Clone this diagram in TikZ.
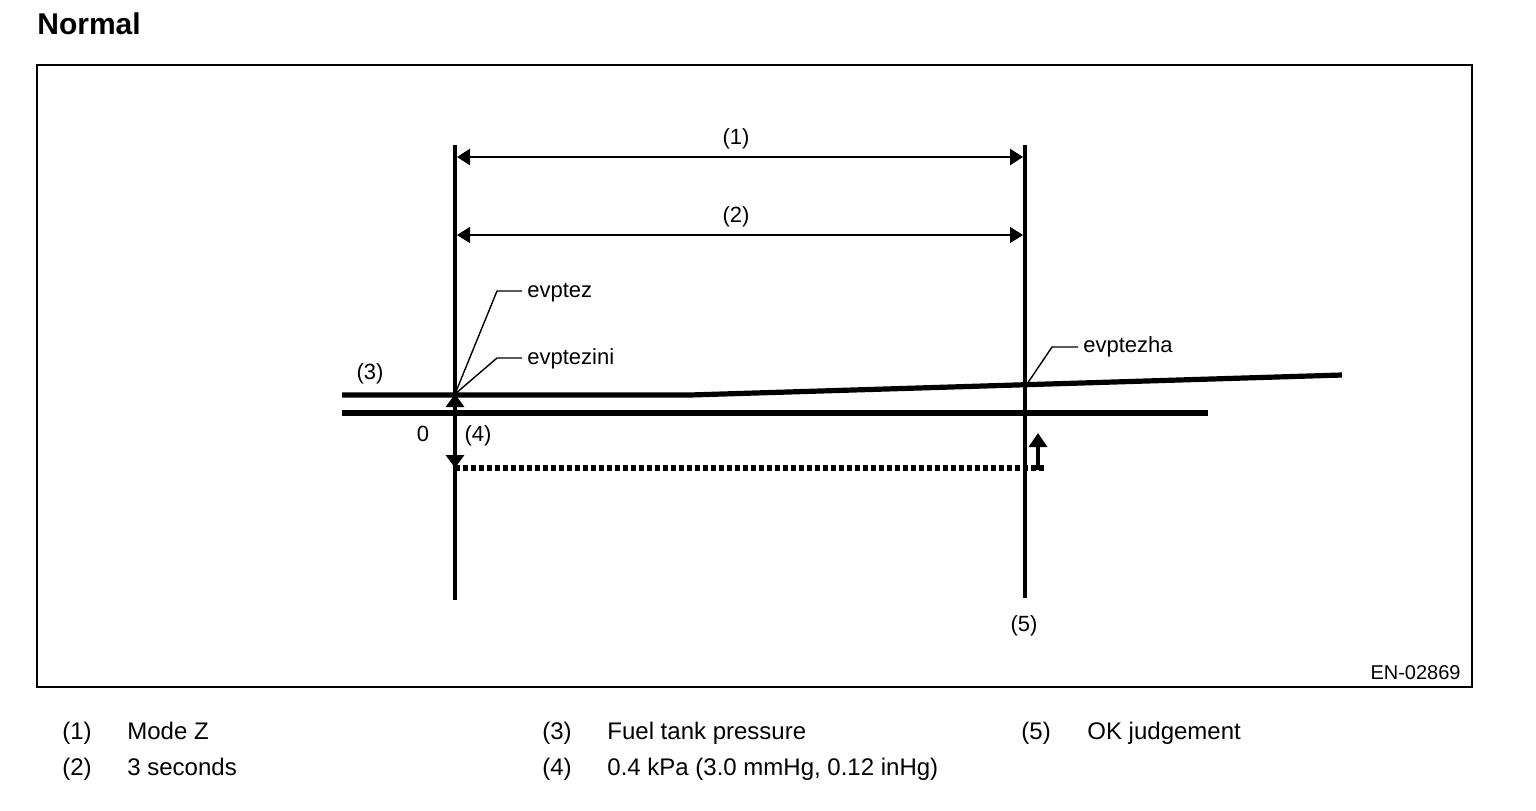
\documentclass[tikz,border=0pt]{standalone}
\usepackage{fontspec}
\setmainfont{Liberation Sans}
\usetikzlibrary{arrows.meta,calc,positioning}
\tikzstyle{timeline} = [line width=2.3pt]
\tikzstyle{pressure} = [line width=2.6pt]
\tikzstyle{span} = [{Triangle[length=6.5pt,width=8pt]}-{Triangle[length=6.5pt,width=8pt]}]
\tikzstyle{leader} = [line width=0.7pt]
\tikzstyle{tag} = [font=\fontsize{11}{13}\selectfont, inner sep=0pt]
\tikzstyle{legend} = [font=\fontsize{12}{14}\selectfont, inner sep=0pt, anchor=base west]

\begin{document}
\begin{tikzpicture}[x=0.5pt,y=-0.5pt]
        \useasboundingbox (0,0) rectangle (1536,810);
        \node (title) [anchor=west, inner sep=0pt, font=\bfseries\fontsize{15}{18}\selectfont] at (37,24) {Normal};
        \draw [line width=1.1pt] (37,65) rectangle (1472,687);
        \coordinate (start-top) at (455,145);
        \coordinate (start-bottom) at (455,600);
        \coordinate (ok-top) at (1025,145);
        \coordinate (ok-bottom) at (1025,598);
        \coordinate (press-left) at (342,395);
        \coordinate (press-bend) at (690,395);
        \coordinate (press-right) at (1342,375);
        \coordinate (zero-left) at (342,413);
        \coordinate (zero-right) at (1208,413);
        \coordinate (evptezini-pt) at (455,394);
        \coordinate (evptezha-pt) at (1027,384);
        \coordinate (dotted-start) at (455,468);
        \coordinate (dotted-end) at (1045,468);
        \coordinate (ok-arrow-base) at (1038,470);
        \coordinate (ok-arrow-tip) at (1038,433);
        \node (mode-1) [tag] at (736,139) {(1)};
        \node (mode-2) [tag] at (736,217) {(2)};
        \node (press-tag) [tag] at (370,374) {(3)};
        \node (zero-tag) [tag] at (423,434) {0};
        \node (delta-tag) [tag] at (478,436) {(4)};
        \node (ok-tag) [tag] at (1024,626) {(5)};
        \node (evptez) [tag, anchor=base west] at (527,297) {evptez};
        \node (evptezini) [tag, anchor=base west] at (527,364) {evptezini};
        \node (evptezha) [tag, anchor=base west] at (1083,352) {evptezha};
        \node (fig-code) [anchor=base east, inner sep=0pt, font=\fontsize{10}{12}\selectfont] at (1461,679) {EN-02869};
        \draw [timeline] (start-top) -- (start-bottom);
        \draw [timeline] (ok-top) -- (ok-bottom);
        \draw [span, line width=1.3pt] ($(start-top)+(2,12)$) -- ($(ok-top)+(-2,12)$);
        \draw [span, line width=0.7pt] ($(start-top)+(2,90)$) -- ($(ok-top)+(-2,90)$);
        \draw [pressure] (press-left) -- (press-bend) -- (press-right);
        \draw [pressure] (zero-left) -- (zero-right);
        \draw [timeline, {Triangle[length=6.5pt,width=9pt]}-{Triangle[length=6.5pt,width=9pt]}] (evptezini-pt) -- (dotted-start);
        \draw [line width=2.6pt, dash pattern=on 2.6pt off 1.4pt] (dotted-start) -- (dotted-end);
        \draw [timeline, -{Triangle[length=7pt,width=9pt]}] (ok-arrow-base) -- (ok-arrow-tip);
        \draw [leader] (evptezini-pt) -- (497,291) -- ($(evptez.base west)+(-5,-6)$);
        \draw [leader] (evptezini-pt) -- (497,358) -- ($(evptezini.base west)+(-5,-6)$);
        \draw [leader] (evptezha-pt) -- (1052,347) -- ($(evptezha.base west)+(-5,-5)$);
        \node (key-1) [legend] at (62,739) {(1)};
        \node (key-1-text) [legend] at (127,739) {Mode Z};
        \node (key-2) [legend] at (62,775) {(2)};
        \node (key-2-text) [legend] at (127,775) {3 seconds};
        \node (key-3) [legend] at (542,739) {(3)};
        \node (key-3-text) [legend] at (607,739) {Fuel tank pressure};
        \node (key-4) [legend] at (542,775) {(4)};
        \node (key-4-text) [legend] at (607,775) {0.4 kPa (3.0 mmHg, 0.12 inHg)};
        \node (key-5) [legend] at (1021,739) {(5)};
        \node (key-5-text) [legend] at (1087,739) {OK judgement};
    \end{tikzpicture}
\end{document}
